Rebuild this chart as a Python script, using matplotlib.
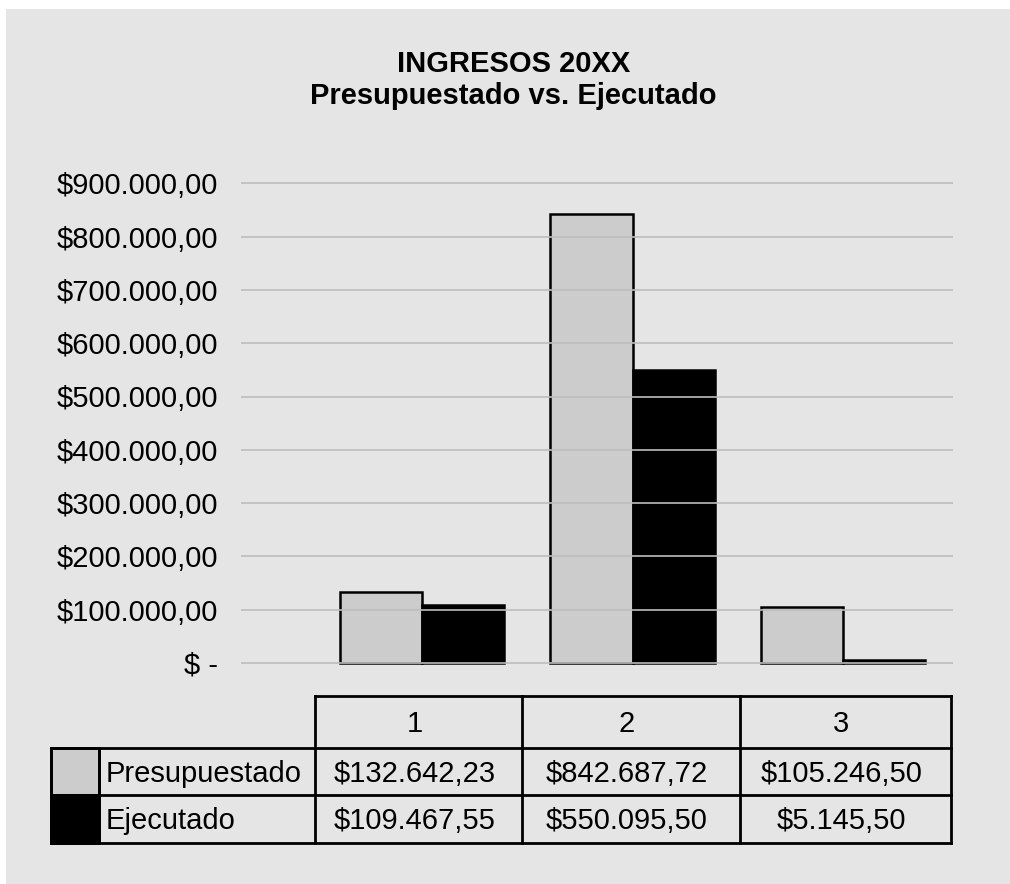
import matplotlib.pyplot as plt
from matplotlib.patches import Rectangle

# Ingresos por trimestre: presupuestado contra ejecutado
categorias = ["1", "2", "3"]
series = ["Presupuestado", "Ejecutado"]
presupuestado = [132642.23, 842687.72, 105246.50]
ejecutado = [109467.55, 550095.50, 5145.50]
marcas_y = [0, 100000, 200000, 300000, 400000, 500000, 600000, 700000, 800000, 900000]

colores = ["#cccccc", "#000000"]
W, H = 1010, 884

plt.rcParams['font.family'] = ['Liberation Sans', 'DejaVu Sans']


def moneda(v):
    if v == 0:
        return "$ -"
    s = f"{v:,.2f}"
    return "$" + s.replace(",", "#").replace(".", ",").replace("#", ".")


fig = plt.figure(figsize=(W / 100, H / 100), dpi=100, facecolor="white")

# lienzo completo en pixeles para fondo, titulo y tabla
bg = fig.add_axes([0, 0, 1, 1], zorder=0)
bg.set_xlim(0, W)
bg.set_ylim(H, 0)
bg.axis("off")
bg.add_patch(Rectangle((6, 9), W + 20, H + 20, facecolor="#e5e5e5",
                       edgecolor="none", clip_on=False))

bg.text(513.5, 72, "INGRESOS 20XX", ha="center", va="baseline",
        fontsize=21, fontweight="bold")
bg.text(513.5, 104, "Presupuestado vs. Ejecutado", ha="center", va="baseline",
        fontsize=21, fontweight="bold")

# grafico de barras
px_por_unidad = 53.3 / 100000
y_cero = 663
y_lo, y_hi = -5000, 905000
top_px = y_cero - y_hi * px_por_unidad
bot_px = y_cero - y_lo * px_por_unidad
ax = fig.add_axes([241 / W, 1 - bot_px / H, (953 - 241) / W, (bot_px - top_px) / H], zorder=1)
ax.patch.set_visible(False)

x = list(range(len(categorias)))
ancho = 0.39
ax.bar([i - ancho / 2 for i in x], presupuestado, width=ancho, color=colores[0],
       edgecolor="black", linewidth=1.8, zorder=1)
ax.bar([i + ancho / 2 for i in x], ejecutado, width=ancho, color=colores[1],
       edgecolor="black", linewidth=1.8, zorder=1)

ax.set_xlim(-0.86, 2.5226)
ax.set_ylim(y_lo, y_hi)
ax.set_xticks([])
ax.set_yticks(marcas_y)
ax.set_yticklabels([moneda(v) for v in marcas_y])
ax.tick_params(axis="y", length=0, pad=16.5, labelsize=21)
ax.set_axisbelow(False)
ax.grid(axis="y", color="#bdbdbd", linewidth=1.2)
for s in ax.spines.values():
    s.set_visible(False)

# tabla de datos bajo el grafico
cols = [315, 522, 740, 951]
filas = [696, 748, 795, 843]
key_x0, key_x1 = 51, 99
lw = 2.0


def linea(x0, x1, y0, y1):
    bg.plot([x0, x1], [y0, y1], color="black", linewidth=lw, solid_capstyle="projecting")


linea(cols[0], cols[-1], filas[0], filas[0])
for yy in filas[1:]:
    linea(key_x0, cols[-1], yy, yy)
for xx in cols:
    linea(xx, xx, filas[0], filas[-1])
for xx in (key_x0, key_x1):
    linea(xx, xx, filas[1], filas[-1])

cap = 21 * 100 / 72 * 0.716 / 2
for j, cat in enumerate(categorias):
    cx = (cols[j] + cols[j + 1]) / 2 - 4
    bg.text(cx, (filas[0] + filas[1]) / 2 + cap, cat, ha="center", va="baseline", fontsize=21)

for r, (nombre, valores) in enumerate(zip(series, [presupuestado, ejecutado])):
    y0, y1 = filas[r + 1], filas[r + 2]
    bg.add_patch(Rectangle((key_x0, y0), key_x1 - key_x0, y1 - y0,
                           facecolor=colores[r], edgecolor="black", linewidth=lw, zorder=1))
    bg.text(106, (y0 + y1) / 2 + cap, nombre, ha="left", va="baseline", fontsize=21)
    for j, v in enumerate(valores):
        cx = (cols[j] + cols[j + 1]) / 2 - 4
        bg.text(cx, (y0 + y1) / 2 + cap, moneda(v), ha="center", va="baseline", fontsize=21)

fig.savefig("out.png", dpi=100, facecolor="white")
